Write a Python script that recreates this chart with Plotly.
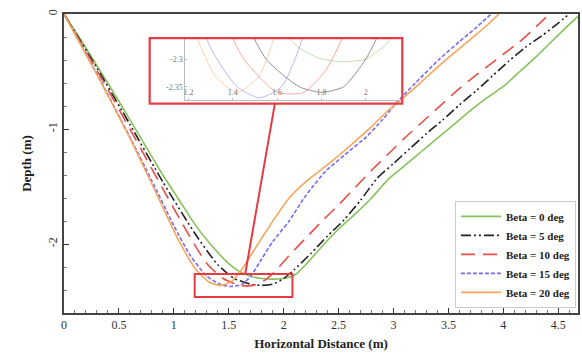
import plotly.graph_objects as go

# Scour-hole profiles for each skew angle beta: horizontal distance (m) vs depth (m)
x_b0 = [0, 0.15, 0.3, 0.45, 0.6, 0.75, 0.9, 1.05, 1.2, 1.35, 1.5, 1.6, 1.7, 1.8, 1.9, 2.0, 2.1, 2.2,
        2.35, 2.5, 2.65, 2.8, 2.95, 3.1, 3.25, 3.4, 3.55, 3.7, 3.85, 4.0, 4.15, 4.3, 4.45, 4.6, 4.68]
d_b0 = [0, -0.22, -0.45, -0.68, -0.92, -1.16, -1.40, -1.62, -1.84, -2.02, -2.17, -2.24, -2.28, -2.30,
        -2.305, -2.30, -2.27, -2.18, -2.02, -1.87, -1.74, -1.60, -1.44, -1.32, -1.20, -1.08, -0.96,
        -0.84, -0.73, -0.63, -0.50, -0.37, -0.23, -0.09, -0.02]

x_b5 = [0, 0.3, 0.6, 0.9, 1.2, 1.4, 1.55, 1.7, 1.8, 1.9, 2.0, 2.1, 2.25, 2.4, 2.55, 2.7, 2.85, 3.0,
        3.15, 3.3, 3.45, 3.6, 3.75, 3.9, 4.05, 4.2, 4.35, 4.5, 4.6]
d_b5 = [0, -0.47, -0.96, -1.46, -1.92, -2.18, -2.30, -2.35, -2.36, -2.35, -2.30, -2.22, -2.08, -1.93,
        -1.79, -1.62, -1.43, -1.30, -1.17, -1.04, -0.92, -0.79, -0.67, -0.54, -0.41, -0.29, -0.19,
        -0.08, 0]

x_b10 = [0, 0.3, 0.6, 0.9, 1.1, 1.3, 1.45, 1.6, 1.72, 1.82, 1.92, 2.05, 2.2, 2.35, 2.5, 2.65, 2.8,
         2.95, 3.1, 3.25, 3.4, 3.55, 3.7, 3.85, 4.0, 4.15, 4.3, 4.42]
d_b10 = [0, -0.49, -1.0, -1.52, -1.86, -2.17, -2.30, -2.36, -2.36, -2.32, -2.24, -2.10, -1.95, -1.80,
         -1.66, -1.51, -1.36, -1.22, -1.08, -0.95, -0.82, -0.69, -0.57, -0.46, -0.35, -0.24, -0.11, 0]

x_b15 = [0, 0.3, 0.6, 0.8, 1.0, 1.15, 1.3, 1.42, 1.52, 1.62, 1.7, 1.8, 1.9, 2.05, 2.2, 2.39, 2.55,
         2.75, 2.9, 3.02, 3.2, 3.41, 3.6, 3.75, 3.89]
d_b15 = [0, -0.52, -1.07, -1.45, -1.84, -2.10, -2.28, -2.35, -2.37, -2.35, -2.28, -2.13, -1.98, -1.80,
         -1.58, -1.36, -1.23, -1.07, -0.92, -0.78, -0.60, -0.40, -0.24, -0.12, 0]

x_b20 = [0, 0.3, 0.6, 0.85, 1.05, 1.2, 1.32, 1.42, 1.52, 1.62, 1.72, 1.82, 1.93, 2.05, 2.2, 2.44, 2.6,
         2.8, 2.95, 3.15, 3.3, 3.5, 3.7, 3.85, 3.96]
d_b20 = [0, -0.53, -1.08, -1.58, -1.98, -2.22, -2.33, -2.36, -2.33, -2.22, -2.07, -1.92, -1.76, -1.60,
         -1.46, -1.28, -1.15, -0.98, -0.84, -0.68, -0.55, -0.38, -0.22, -0.10, 0]

names = ["Beta = 0 deg", "Beta = 5 deg", "Beta = 10 deg", "Beta = 15 deg", "Beta = 20 deg"]
xs = [x_b0, x_b5, x_b10, x_b15, x_b20]
ds = [d_b0, d_b5, d_b10, d_b15, d_b20]
colors = ["#86c25a", "#222222", "#e8504a", "#7b68ee", "#f6a55c"]
dashes = ["solid", "10px,3px,2px,3px,2px,3px", "14px,8px", "4px,2px", "solid"]

# zoomed window around the bottom of the holes
zoom_x = [1.19, 2.08]
zoom_d = [-2.46, -2.26]
inset_x_range = [1.186, 2.148]
inset_d_range = [-2.374, -2.262]

serif = "Liberation Serif"

fig = go.Figure()
for x, d, n, c, ds_ in zip(xs, ds, names, colors, dashes):
    fig.add_trace(go.Scatter(x=x, y=d, name=n, mode="lines",
                             line=dict(color=c, width=1.6, dash=ds_, shape="spline", smoothing=0.6)))
for x, d, n, c in zip(xs, ds, names, colors):
    fig.add_trace(go.Scatter(x=x, y=d, name=n, mode="lines", showlegend=False,
                             xaxis="x2", yaxis="y2", opacity=0.55,
                             line=dict(color=c, width=0.9, shape="spline", smoothing=0.6)))

red = "#e43b44"
# small window on the main axes
fig.add_shape(type="rect", xref="x", yref="y", x0=zoom_x[0], x1=zoom_x[1], y0=zoom_d[0], y1=zoom_d[1],
              line=dict(color=red, width=2))
# frame around the inset and the connecting line
fig.add_shape(type="rect", xref="x", yref="y", x0=0.78, x1=3.08, y0=-0.78, y1=-0.21,
              line=dict(color=red, width=2.2))
fig.add_shape(type="line", xref="x", yref="y", x0=1.65, y0=zoom_d[1], x1=1.92, y1=-0.78,
              line=dict(color=red, width=2))

axis_common = dict(showline=True, linecolor="#444", linewidth=1.5, mirror=True, ticks="inside",
                   tickcolor="#333", ticklen=5, showgrid=False, zeroline=False,
                   tickfont=dict(family=serif, size=12, color="#333"))

fig.update_layout(
    width=582, height=360,
    margin=dict(l=64, r=2, t=14, b=47),
    paper_bgcolor="white", plot_bgcolor="white",
    xaxis=dict(range=[0, 4.68], tickvals=[0, 0.5, 1, 1.5, 2, 2.5, 3, 3.5, 4, 4.5],
               ticktext=["0", "0.5", "1", "1.5", "2", "2.5", "3", "3.5", "4", "4.5"],
               minor=dict(ticks="inside", ticklen=3, dtick=0.1, tickcolor="#777"),
               title=dict(text="Horizontal Distance (m)", standoff=8,
                          font=dict(family=serif, size=13, color="#222", weight="bold")),
               **axis_common),
    yaxis=dict(range=[-2.6, 0.0], tickvals=[0, -1, -2], ticktext=["0", "-1", "-2"], tickangle=-90,
               minor=dict(ticks="inside", ticklen=3, dtick=0.2, tickcolor="#777"),
               title=dict(text="Depth (m)", standoff=12,
                          font=dict(family=serif, size=13, color="#222", weight="bold")),
               **axis_common),
    xaxis2=dict(domain=[0.236, 0.651], anchor="y2", range=inset_x_range,
                tickvals=[1.2, 1.4, 1.6, 1.8, 2.0], ticktext=["1.2", "1.4", "1.6", "1.8", "2"],
                showline=True, linecolor="#bbb", linewidth=1, ticks="inside", ticklen=2,
                tickcolor="#bbb", ticklabelposition="inside", ticklabeloverflow="allow",
                showgrid=False, zeroline=False,
                tickfont=dict(family=serif, size=8, color="#777")),
    yaxis2=dict(domain=[0.712, 0.920], anchor="x2", range=inset_d_range,
                tickvals=[-2.3, -2.35], ticktext=["-2.3", "-2.35"],
                showline=True, linecolor="#bbb", linewidth=1, ticks="inside", ticklen=2,
                tickcolor="#bbb", showgrid=False, zeroline=False,
                tickfont=dict(family=serif, size=8, color="#777")),
    legend=dict(x=0.996, xanchor="right", y=0.017, yanchor="bottom",
                bgcolor="white", bordercolor="#cccccc", borderwidth=1,
                font=dict(family=serif, size=11, color="#222", weight="bold"),
                tracegroupgap=0, itemwidth=40),
    showlegend=True,
)

fig.write_html("out.html")
